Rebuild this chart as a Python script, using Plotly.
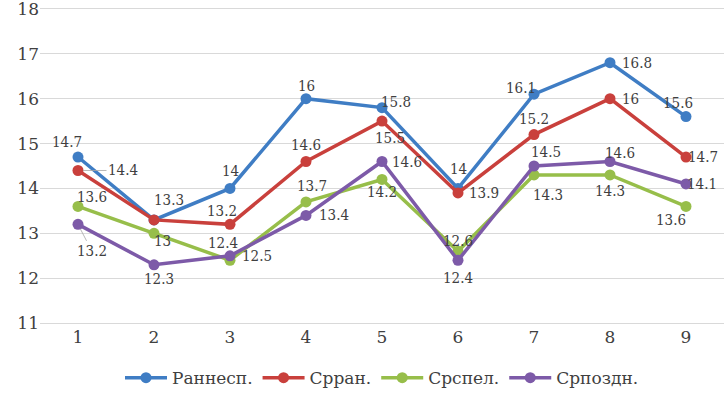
import plotly.graph_objects as go

categories = [1, 2, 3, 4, 5, 6, 7, 8, 9]
series_names = ["Раннесп.", "Срран.", "Срспел.", "Српоздн."]
ranne = [14.7, 13.3, 14.0, 16.0, 15.8, 14.0, 16.1, 16.8, 15.6]
srran = [14.4, 13.3, 13.2, 14.6, 15.5, 13.9, 15.2, 16.0, 14.7]
srspel = [13.6, 13.0, 12.4, 13.7, 14.2, 12.6, 14.3, 14.3, 13.6]
srpozdn = [13.2, 12.3, 12.5, 13.4, 14.6, 12.4, 14.5, 14.6, 14.1]
y_ticks = [11, 12, 13, 14, 15, 16, 17, 18]

series = [ranne, srran, srspel, srpozdn]
colors = ["#3F7DC4", "#C9403C", "#97BE4A", "#7D5AA8"]

# label offsets (px) per series per point: (xshift, yshift); None = no label
label_offsets = [
    [(-11, 15), (15, 20), (0, 17), (0, 13), (14, 6), (0, 19), (-13, 6), (27, 0), (-8, 14)],
    [(45, 0), None, (-8, 13), (0, 17), (8, -17), (26, 0), (0, 16), (20, 0), (17, 0)],
    [(14, 9), (8, -8), (-7, 17), (6, 16), (0, -13), (0, 10), (14, -20), (0, -16), (-15, -14)],
    [(14, -27), (5, -14), (27, 0), (28, 0), (25, 0), (0, -18), (12, 14), (10, 9), (16, 0)],
]
leader = {(0, 0), (1, 0), (3, 0), (2, 6), (2, 4), (2, 5)}

fig = go.Figure()
for name, vals, col in zip(series_names, series, colors):
    fig.add_trace(go.Scatter(
        x=categories, y=vals, name=name, mode="lines+markers",
        line=dict(color=col, width=3.5),
        marker=dict(color=col, size=11),
    ))

font_ann = "DejaVu Serif Condensed, DejaVu Serif"
font_main = "DejaVu Serif"
txt_col = "#404040"
for si, vals in enumerate(series):
    for pi, v in enumerate(vals):
        off = label_offsets[si][pi]
        if off is None:
            continue
        xs, ys = off
        txt = f"{v:g}"
        if (si, pi) in leader:
            fig.add_annotation(
                x=categories[pi], y=v, text=txt, showarrow=True,
                arrowhead=0, arrowwidth=0.8, arrowcolor="#A6A6A6",
                ax=xs, ay=-ys, standoff=5,
                font=dict(family=font_ann, size=15, color=txt_col),
            )
        else:
            fig.add_annotation(
                x=categories[pi], y=v, text=txt, showarrow=False,
                xshift=xs, yshift=ys,
                font=dict(family=font_ann, size=15, color=txt_col),
            )

fig.update_layout(
    width=724, height=393,
    margin=dict(l=40, r=0, t=7, b=68, autoexpand=False),
    paper_bgcolor="white", plot_bgcolor="white",
    font=dict(family=font_main, size=17, color=txt_col),
    showlegend=True,
    legend=dict(orientation="h", x=0.5, xanchor="center", y=-0.167, yanchor="middle",
                font=dict(family=font_main, size=17, color=txt_col),
                itemwidth=42, tracegroupgap=0),
)
fig.update_xaxes(range=[0.5, 9.5], tickmode="array", tickvals=categories,
                 ticktext=[str(c) for c in categories], showgrid=False,
                 zeroline=False, showline=False, ticks="", automargin=False,
                 tickfont=dict(size=17, family=font_main, color=txt_col))
fig.update_yaxes(range=[10.959, 18.041], tickmode="array", tickvals=y_ticks,
                 showgrid=True, gridcolor="#D9D9D9", gridwidth=1,
                 zeroline=False, showline=False, ticks="", automargin=False,
                 ticklabeloverflow="allow",
                 tickfont=dict(size=17, family=font_main, color=txt_col))

fig.write_html("out.html", config={"displayModeBar": False},
               post_script="document.body.style.margin='0px';")
